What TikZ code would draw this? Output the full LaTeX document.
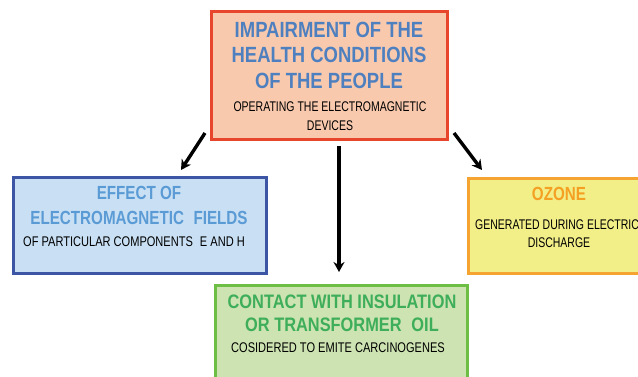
\documentclass[tikz,border=0pt]{standalone}
\usepackage{fontspec}
\setmainfont{Liberation Sans}
\newfontfamily\ttlfont{Liberation Sans}[FakeStretch=0.8]
\newfontfamily\ttlwfont{Liberation Sans}[FakeStretch=0.84]
\newfontfamily\subfont{Liberation Sans}[FakeStretch=0.75]
\newfontfamily\subwfont{Liberation Sans}[FakeStretch=0.79]
\usetikzlibrary{arrows.meta}
\definecolor{redb}{HTML}{E8462C}
\definecolor{peach}{HTML}{F9C9AE}
\definecolor{blueb}{HTML}{3C55A5}
\definecolor{bluef}{HTML}{C9E0F4}
\definecolor{orangeb}{HTML}{F5A331}
\definecolor{yellowf}{HTML}{F2EE88}
\definecolor{greenb}{HTML}{6CBE45}
\definecolor{greenf}{HTML}{CDE3B1}
\definecolor{ttlblue}{HTML}{4E80BF}
\definecolor{ttllblue}{HTML}{5B9BD5}
\definecolor{ttlorange}{HTML}{F4A023}
\definecolor{ttlgreen}{HTML}{3EAE5A}
\begin{document}
\begin{tikzpicture}[x=1pt,y=-1pt,
  box/.style={draw, line width=3.2pt, anchor=north west, inner sep=0pt},
  ttl/.style={align=center, inner sep=0pt},
  sub/.style={align=center, inner sep=0pt, text=black, font=\subfont\fontsize{14}{19}\selectfont},
  subw/.style={sub, font=\subwfont\fontsize{14}{19}\selectfont},
  arr/.style={line width=3.4pt, -{Stealth[length=10pt,width=11pt]}}]
\useasboundingbox (0,0) rectangle (638,376);
\clip (0,0) rectangle (638,376);
\fill[white] (0,0) rectangle (638,376);
% boxes
\node[box, draw=redb, fill=peach, minimum width=236pt, minimum height=128pt] (top) at (210,10) {};
\node[box, draw=blueb, fill=bluef, minimum width=253pt, minimum height=96pt] (left) at (12,176) {};
\node[box, draw=orangeb, fill=yellowf, minimum width=185pt, minimum height=95pt] (right) at (467,177) {};
\node[box, draw=greenb, fill=greenf, minimum width=252pt, minimum height=110pt] (bottom) at (214,284) {};
% texts
\node[ttl, text=ttlblue, font=\ttlwfont\bfseries\fontsize{22}{25.5}\selectfont] (toptitle) at (329,55) {IMPAIRMENT OF THE\\HEALTH CONDITIONS\\OF THE PEOPLE};
\node[sub] (topsub) at (330,116) {OPERATING THE ELECTROMAGNETIC\\DEVICES};
\node[ttl, text=ttllblue, font=\ttlfont\bfseries\fontsize{19}{25}\selectfont] (lefttitle) at (139,205.5) {EFFECT OF\\ELECTROMAGNETIC\enspace FIELDS};
\node[subw] (leftsub) at (134,242) {OF PARTICULAR COMPONENTS\enspace E AND H};
\node[ttl, text=ttlorange, font=\ttlfont\bfseries\fontsize{19}{25}\selectfont] (righttitle) at (559,194) {OZONE};
\node[sub, anchor=west] (rightsub1) at (475,225) {GENERATED DURING ELECTRIC};
\node[sub] (rightsub2) at (559,243) {DISCHARGE};
\node[ttl, text=ttlgreen, font=\ttlwfont\bfseries\fontsize{19.5}{23}\selectfont] (bottomtitle) at (342,313.5) {CONTACT WITH INSULATION\\OR TRANSFORMER\enspace OIL};
\node[subw] (bottomsub) at (338,348) {COSIDERED TO EMITE CARCINOGENES};
% arrows
\coordinate (la1) at (205,133);
\coordinate (la2) at (181,170);
\coordinate (ma1) at (339,146);
\coordinate (ma2) at (339,272);
\coordinate (ra1) at (454,133);
\coordinate (ra2) at (482,170);
\draw[arr] (la1) -- (la2);
\draw[arr] (ma1) -- (ma2);
\draw[arr] (ra1) -- (ra2);
\end{tikzpicture}
\end{document}
